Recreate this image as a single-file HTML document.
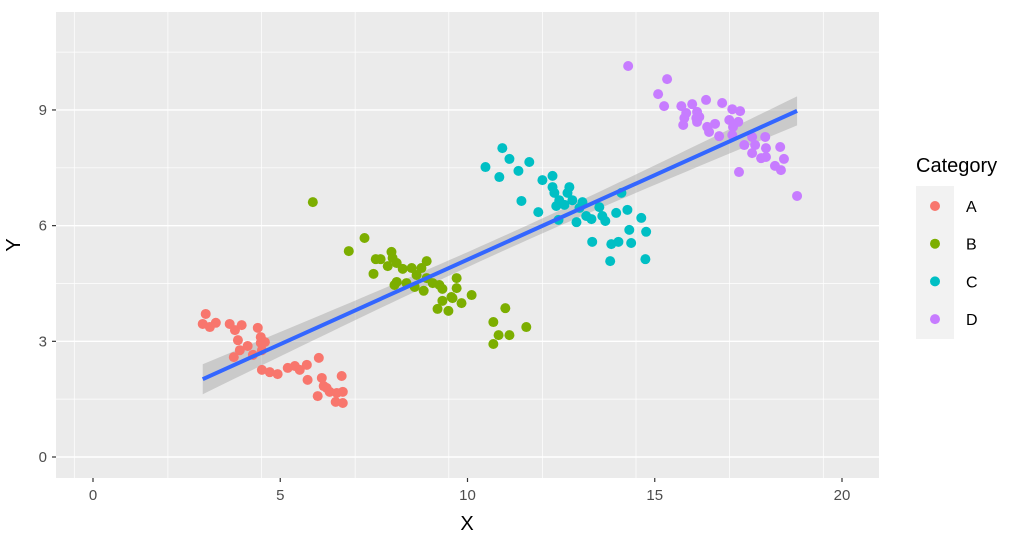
<!DOCTYPE html>
<html><head><meta charset="utf-8"><style>
body{margin:0;background:#fff;}
svg text{font-family:"Liberation Sans",sans-serif;}
</style></head><body>
<svg id="chart" width="1024" height="535" xmlns="http://www.w3.org/2000/svg">
<rect x="56" y="12" width="823" height="466" fill="#ebebeb"/>
<g id="grid"></g>
<g id="band"></g>
<g id="points"></g>
<g id="fit"></g>
<g id="axes"></g>
<text x="467" y="530" font-size="20" text-anchor="middle" fill="#000">X</text>
<text x="20" y="245" font-size="20" text-anchor="middle" fill="#000" transform="rotate(-90 20 245)">Y</text>
<g id="legend">
<text x="916" y="172" font-size="20" fill="#000">Category</text>
<rect x="916" y="186" width="38" height="153" fill="#f2f2f2"/>
</g>
</svg>
<script>
const categories=["A","B","C","D"];
const colors=["#F8766D","#7CAE00","#00BFC4","#C77CFF"];
const xTicks=[0,5,10,15,20];
const yTicks=[0,3,6,9];
const ax=[3.01,2.93,3.12,3.28,3.65,3.79,3.97,4.40,4.48,3.87,3.92,4.13,4.48,3.76,4.27,4.59,4.51,4.72,4.93,5.20,5.39,5.52,5.71,6.03,5.73,6.11,6.16,6.00,6.32,6.51,6.67,6.24,6.48,6.67,6.64,4.51];
const ay=[3.71,3.45,3.37,3.48,3.45,3.29,3.42,3.35,3.11,3.03,2.77,2.88,2.96,2.59,2.65,2.98,2.26,2.20,2.15,2.31,2.36,2.26,2.39,2.57,2.00,2.05,1.84,1.58,1.69,1.66,1.69,1.79,1.43,1.40,2.10,2.77];
const bx=[5.87,7.25,6.83,7.55,7.68,7.49,7.97,8.0,7.87,8.11,8.27,8.51,8.91,8.77,8.64,8.11,8.05,8.37,8.59,8.91,9.07,9.25,9.33,8.83,9.71,9.71,9.57,9.33,9.84,10.11,9.20,9.49,9.60,11.01,10.69,11.57,10.83,11.12,10.69];
const by=[6.61,5.68,5.34,5.13,5.13,4.75,5.32,5.16,4.95,5.03,4.88,4.90,5.08,4.90,4.72,4.54,4.46,4.51,4.41,4.64,4.51,4.46,4.36,4.31,4.64,4.38,4.15,4.05,3.99,4.20,3.84,3.79,4.12,3.86,3.50,3.37,3.16,3.16,2.93];
const cx=[10.93,10.48,11.12,10.85,11.36,11.65,12.0,12.27,12.27,12.32,12.72,12.67,12.45,11.44,12.37,12.59,12.8,13.07,12.99,13.52,11.89,14.11,13.17,13.31,13.6,13.68,13.97,14.27,14.64,12.91,12.43,14.77,14.32,14.37,14.03,13.84,13.33,13.81,14.75];
const cy=[8.01,7.52,7.73,7.26,7.42,7.65,7.18,7.29,7.0,6.85,7.0,6.85,6.66,6.64,6.51,6.54,6.66,6.61,6.46,6.48,6.35,6.85,6.25,6.17,6.25,6.12,6.33,6.41,6.20,6.09,6.15,5.84,5.89,5.55,5.58,5.52,5.58,5.08,5.13];
const dx=[14.29,15.33,15.09,15.25,15.71,16.0,16.37,16.8,17.07,17.28,15.84,16.13,15.79,16.11,16.19,15.76,16.13,16.4,16.61,16.45,16.72,16.99,17.23,17.09,17.07,17.6,17.95,17.39,17.68,17.97,17.6,17.84,17.97,18.35,18.45,18.21,18.37,17.25,18.8];
const dy=[10.14,9.80,9.41,9.10,9.10,9.15,9.26,9.18,9.02,8.97,8.92,8.95,8.79,8.79,8.82,8.61,8.69,8.56,8.64,8.43,8.32,8.74,8.69,8.56,8.35,8.30,8.30,8.09,8.09,8.01,7.88,7.75,7.78,8.04,7.73,7.55,7.44,7.39,6.77];
const seriesX=[ax,bx,cx,dx], seriesY=[ay,by,cy,dy];

const NS="http://www.w3.org/2000/svg";
const X=v=>93+v*37.45, Y=v=>457-v*38.56;
function mk(tag,attrs,parent){const e=document.createElementNS(NS,tag);for(const k in attrs)e.setAttribute(k,attrs[k]);parent.appendChild(e);return e;}
const grid=document.getElementById('grid'),axes=document.getElementById('axes');
for(let v=-0.5;v<=21;v+=2.5){const major=(v%5===0);const x=X(v);if(x<56||x>879)continue;
 const l=mk('line',{x1:x,x2:x,y1:12,y2:478,stroke:'#fff','stroke-width':major?1.4:0.7},grid);
 
 }
for(let v=-1.5;v<=12;v+=1.5){const major=(Math.abs(v%3)<1e-9);const y=Y(v);if(y<12||y>478)continue;
 const l=mk('line',{x1:56,x2:879,y1:y,y2:y,stroke:'#fff','stroke-width':major?1.4:0.7},grid);
 
 }
xTicks.forEach(t=>{const x=X(t);
 const tk=mk('line',{x1:x,x2:x,y1:478,y2:482,stroke:'#333','stroke-width':1.2},axes);
 
 
 const tx=mk('text',{x:x,y:500,'font-size':15,'text-anchor':'middle',fill:'#4d4d4d'},axes);tx.textContent=t;
 
 });
yTicks.forEach(t=>{const y=Y(t);
 const tk=mk('line',{x1:52,x2:56,y1:y,y2:y,stroke:'#333','stroke-width':1.2},axes);
 
 
 const tx=mk('text',{x:47,y:y+5,'font-size':15,'text-anchor':'end',fill:'#4d4d4d'},axes);tx.textContent=t;
 
 });
const pts=document.getElementById('points');
let allX=[],allY=[];
seriesX.forEach((xs,s)=>{xs.forEach((v,i)=>{allX.push(v);allY.push(seriesY[s][i]);
 const c=mk('circle',{cx:X(v),cy:Y(seriesY[s][i]),r:5,fill:colors[s]},pts);
 
 });});
// linear fit
const n=allX.length,mx=allX.reduce((a,b)=>a+b)/n,my=allY.reduce((a,b)=>a+b)/n;
let sxx=0,sxy=0;for(let i=0;i<n;i++){sxx+=(allX[i]-mx)**2;sxy+=(allX[i]-mx)*(allY[i]-my);}
const b1=sxy/sxx,b0=my-b1*mx;let sse=0;for(let i=0;i<n;i++)sse+=(allY[i]-b0-b1*allX[i])**2;
const s=Math.sqrt(sse/(n-2));
const x0=Math.min(...allX),x1=Math.max(...allX);
let up=[],lo=[];for(let k=0;k<=60;k++){const x=x0+(x1-x0)*k/60,f=b0+b1*x,se=1.97*s*Math.sqrt(1/n+(x-mx)**2/sxx);
 up.push(X(x)+','+Y(f+se));lo.unshift(X(x)+','+Y(f-se));}
const band=mk('polygon',{points:up.concat(lo).join(' '),fill:'#999','fill-opacity':0.4},document.getElementById('band'));


const fl=mk('line',{x1:X(x0),y1:Y(b0+b1*x0),x2:X(x1),y2:Y(b0+b1*x1),stroke:'#3366FF','stroke-width':4},document.getElementById('fit'));


const lg=document.getElementById('legend');
categories.forEach((c,i)=>{const y=206+i*37.7;
 const d=mk('circle',{cx:935,cy:y,r:5,fill:colors[i]},lg);
 
 
 const t=mk('text',{x:966,y:y+6,'font-size':16,fill:'#000'},lg);t.textContent=c;
 
 });
</script>
</body></html>
